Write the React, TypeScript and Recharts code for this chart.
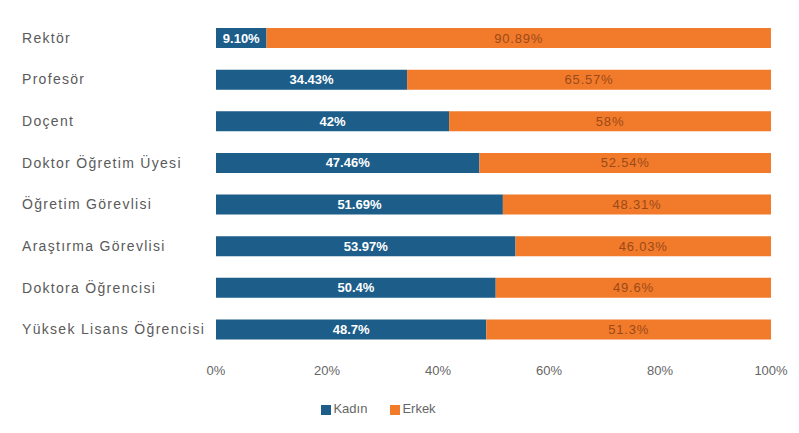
import { Bar, BarChart, LabelList, Legend, XAxis, YAxis } from "recharts";

const categories = [
  "Rektör",
  "Profesör",
  "Doçent",
  "Doktor Öğretim Üyesi",
  "Öğretim Görevlisi",
  "Araştırma Görevlisi",
  "Doktora Öğrencisi",
  "Yüksek Lisans Öğrencisi",
];
const kadin = [9.1, 34.43, 42, 47.46, 51.69, 53.97, 50.4, 48.7];
const erkek = [90.89, 65.57, 58, 52.54, 48.31, 46.03, 49.6, 51.3];
const kadinLabels = ["9.10%", "34.43%", "42%", "47.46%", "51.69%", "53.97%", "50.4%", "48.7%"];
const erkekLabels = ["90.89%", "65.57%", "58%", "52.54%", "48.31%", "46.03%", "49.6%", "51.3%"];
const xTicks = [0, 20, 40, 60, 80, 100];
const seriesOrder = ["Kadın", "Erkek"];

const BLUE = "#1c5d89";
const ORANGE = "#f27a2b";
const FONT = "Arial, 'Liberation Sans', sans-serif";

const data = categories.map((name, i) => ({
  name,
  kadin: kadin[i],
  erkek: erkek[i],
  kadinLabel: kadinLabels[i],
  erkekLabel: erkekLabels[i],
}));

function CategoryTick({ y, payload }: any) {
  return (
    <text
      x={14}
      y={y}
      dy={5}
      textAnchor="start"
      fontSize={14}
      letterSpacing={1.3}
      fill="#5a5a5a"
      fontFamily={FONT}
    >
      {payload.value}
    </text>
  );
}

export default function App() {
  return (
    <div style={{ margin: -8, width: 799, height: 433, background: "#fff" }}>
      <div style={{ paddingLeft: 8, paddingTop: 8 }}>
        <BarChart
          width={791}
          height={425}
          data={data}
          layout="vertical"
          margin={{ top: 9, right: 28, bottom: 28, left: 14 }}
          barSize={20}
        >
          <XAxis
            type="number"
            domain={[0, 100]}
            ticks={xTicks}
            tickFormatter={(v) => `${v}%`}
            axisLine={false}
            tickLine={false}
            tick={{ fontSize: 13, fill: "#666", fontFamily: FONT }}
            tickMargin={10}
            height={40}
          />
          <YAxis
            type="category"
            dataKey="name"
            width={194}
            axisLine={false}
            tickLine={false}
            tick={<CategoryTick />}
          />
          <Legend
            verticalAlign="bottom"
            iconType="square"
            iconSize={10}
            itemSorter={(item: any) => seriesOrder.indexOf(item.value)}
            wrapperStyle={{ fontSize: 13, fontFamily: FONT, bottom: 17, left: 1 }}
            formatter={(value) => (
              <span style={{ color: "#666", marginLeft: -2, marginRight: value === "Kadın" ? 13 : 0 }}>
                {value}
              </span>
            )}
          />
          <Bar dataKey="kadin" name="Kadın" stackId="a" fill={BLUE} isAnimationActive={false}>
            <LabelList
              dataKey="kadinLabel"
              position="center"
              fill="#fff"
              fontSize={13}
              fontWeight="bold"
              fontFamily={FONT}
            />
          </Bar>
          <Bar dataKey="erkek" name="Erkek" stackId="a" fill={ORANGE} isAnimationActive={false}>
            <LabelList
              dataKey="erkekLabel"
              position="center"
              fill="#9a4a18"
              fontSize={13}
              letterSpacing={0.8}
              fontFamily={FONT}
            />
          </Bar>
        </BarChart>
      </div>
    </div>
  );
}
